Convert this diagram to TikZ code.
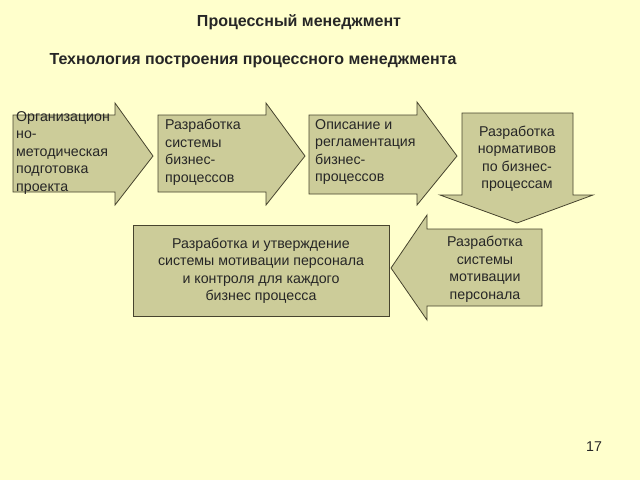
\documentclass[tikz,border=0pt]{standalone}
\usepackage{fontspec}
\setmainfont{Liberation Sans}
\begin{document}
\begin{tikzpicture}[x=1pt,y=-1pt,
  shp/.style={draw=black!65!olive, fill=fillc, line width=0.8pt, line join=miter},
  txt/.style={font=\fontsize{14.2}{17.5}\selectfont, inner sep=0pt, text=black!85},
  ttl/.style={font=\fontsize{16}{18}\selectfont\bfseries, inner sep=0pt, text=black!85}]
\definecolor{bgc}{HTML}{FFFFCC}
\definecolor{fillc}{HTML}{CCCC99}
\fill[bgc] (0,0) rectangle (640,480);
\useasboundingbox (0,0) rectangle (640,480);
% titles
\node[ttl] (t1) at (299,22) {Процессный менеджмент};
\node[ttl] (t2) at (253,61) {Технология построения процессного менеджмента};
% arrow 1
\draw[shp] (13,115) -- (115,115) -- (115,103) -- (153,156) -- (115,205) -- (115,192) -- (13,192) -- cycle;
\node[txt, anchor=north west, align=left] (a1) at (16,111) {Организацион\\но-\\методическая\\подготовка\\проекта};
% arrow 2
\draw[shp] (158,115) -- (266,115) -- (266,103) -- (305,156) -- (266,205) -- (266,192) -- (158,192) -- cycle;
\node[txt, anchor=north west, align=left] (a2) at (165,119) {Разработка\\системы\\бизнес-\\процессов};
% arrow 3
\draw[shp] (309,115) -- (417,115) -- (417,102) -- (457,156) -- (417,205) -- (417,194) -- (309,194) -- cycle;
\node[txt, anchor=north west, align=left] (a3) at (315,119) {Описание и\\регламентация\\бизнес-\\процессов};
% down arrow
\draw[shp] (462,113) -- (573,113) -- (573,195) -- (593,195) -- (517,223) -- (440,195) -- (462,195) -- cycle;
\node[txt, align=center] (a4) at (517,159) {Разработка\\нормативов\\по бизнес-\\процессам};
% left arrow
\draw[shp] (542,229) -- (427,229) -- (427,215) -- (391,268) -- (427,320) -- (427,306) -- (542,306) -- cycle;
\node[txt, align=center] (a5) at (485,269.5) {Разработка\\системы\\мотивации\\персонала};
% rectangle
\draw[shp] (133,225) rectangle (389,316);
\node[txt, align=center] (a6) at (261,271) {Разработка и утверждение\\системы мотивации персонала\\и контроля для каждого\\бизнес процесса};
% page number
\node[txt] (pn) at (594,447) {17};
\end{tikzpicture}
\end{document}
